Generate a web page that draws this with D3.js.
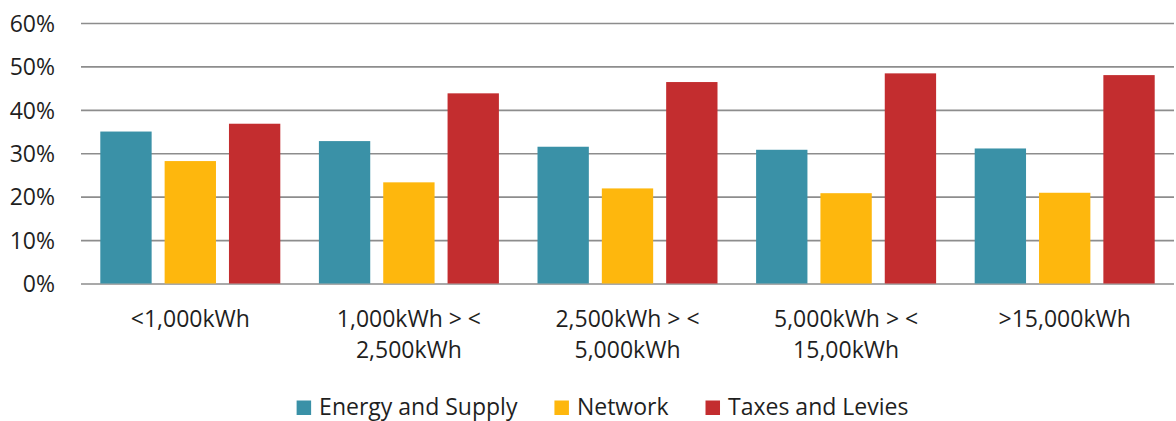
<!DOCTYPE html>
<html>
<head>
<meta charset="utf-8">
<script src="https://cdn.jsdelivr.net/npm/d3@7"></script>
<style>
  html, body { margin: 0; padding: 0; background: #fff; }
  svg { display: block; }
  text { font-family: "Open Sans", "Noto Sans", sans-serif; fill: #1f1f1f; }
</style>
</head>
<body>
<svg id="chart" width="1176" height="421"></svg>
<script>
// Consumption bands (two-line labels split on "|")
const categories = [
  "<1,000kWh",
  "1,000kWh > <|2,500kWh",
  "2,500kWh > <|5,000kWh",
  "5,000kWh > <|15,00kWh",
  ">15,000kWh"
];
const seriesNames = ["Energy and Supply", "Network", "Taxes and Levies"];
const seriesColors = ["#3a91a7", "#feb70d", "#c32d2f"];

// Share of the final electricity price, in percent
const energySupply = [35.0, 32.8, 31.5, 30.8, 31.1];
const network      = [28.2, 23.3, 21.9, 20.8, 20.9];
const taxesLevies  = [36.8, 43.8, 46.4, 48.4, 48.0];

const yTicks = [0, 10, 20, 30, 40, 50, 60];

const seriesValues = [energySupply, network, taxesLevies];

const svg = d3.select("#chart");
const margin = { left: 81, right: 2, top: 23, bottom: 137.5 };
const W = 1176, H = 421;
const plotW = W - margin.left - margin.right;
const plotH = H - margin.top - margin.bottom;
const fontSize = 23;

const g = svg.append("g").attr("transform", `translate(${margin.left},${margin.top})`);

const x0 = d3.scaleBand().domain(categories).range([0, plotW]).paddingInner(0).paddingOuter(0);
const x1 = d3.scaleBand().domain(seriesNames).range([0, x0.bandwidth()])
  .paddingInner(0.202).paddingOuter(0.3);
const y = d3.scaleLinear().domain([0, 60]).range([plotH, 0]);

// Horizontal gridlines with percentage labels
const yAxis = g.append("g")
  .call(d3.axisLeft(y).tickValues(yTicks).tickSize(-plotW).tickPadding(26)
    .tickFormat(d => d + "%"));
yAxis.select(".domain").remove();
yAxis.selectAll(".tick line").attr("stroke", "#8d8d8d").attr("stroke-width", 1.6);
yAxis.selectAll(".tick text")
  .style("font-size", fontSize + "px")
  .attr("fill", "#1f1f1f")
  .attr("dy", "0.36em");

// Grouped bars
const groups = g.append("g").selectAll("g")
  .data(categories)
  .join("g")
  .attr("transform", d => `translate(${x0(d)},0)`);

groups.selectAll("rect")
  .data((d, i) => seriesNames.map((s, k) => ({ s, k, v: seriesValues[k][i] })))
  .join("rect")
  .attr("x", d => x1(d.s))
  .attr("width", x1.bandwidth())
  .attr("y", d => y(d.v))
  .attr("height", d => y(0) - y(d.v))
  .attr("fill", d => seriesColors[d.k]);

// Category labels under the axis
const xAxis = g.append("g")
  .attr("transform", `translate(0,${plotH})`)
  .call(d3.axisBottom(x0).tickSize(0).tickPadding(0).tickFormat(""));
xAxis.select(".domain").remove();
xAxis.selectAll(".tick text").each(function(d) {
  const t = d3.select(this)
    .attr("y", 43)
    .attr("dy", null)
    .attr("fill", "#1f1f1f")
    .style("font-size", fontSize + "px");
  d.split("|").forEach((line, i) => {
    t.append("tspan").attr("x", 0).attr("dy", i === 0 ? 0 : 31.5).text(line);
  });
});

// Legend, centred under the plot
const legend = svg.append("g").attr("transform", "translate(0,415)");
const sw = 14.5, gapText = 8, gapItem = 37;
const items = legend.selectAll("g").data(seriesNames).join("g");
items.append("rect")
  .attr("width", sw).attr("height", sw)
  .attr("y", -sw)
  .attr("fill", (d, i) => seriesColors[i]);
items.append("text")
  .attr("x", sw + gapText)
  .style("font-size", fontSize + "px")
  .text(d => d);
const widths = [];
items.each(function() { widths.push(sw + gapText + d3.select(this).select("text").node().getComputedTextLength()); });
const total = d3.sum(widths) + gapItem * (widths.length - 1);
let cx = 602.5 - total / 2;
items.attr("transform", (d, i) => {
  const tx = cx;
  cx += widths[i] + gapItem;
  return `translate(${tx},0)`;
});
</script>
</body>
</html>
